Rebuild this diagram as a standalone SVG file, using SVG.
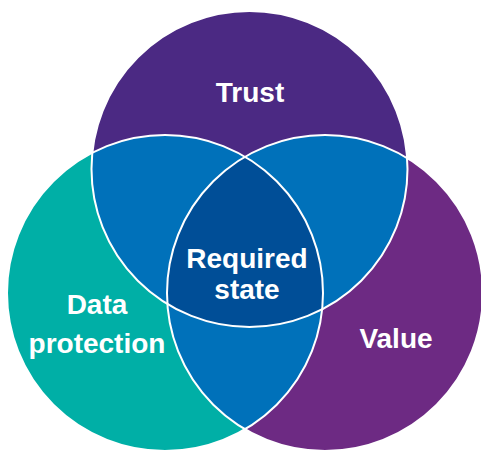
<svg xmlns="http://www.w3.org/2000/svg" width="481" height="450" viewBox="0 0 481 450">
<style>
.lbl{font-family:"Liberation Sans",Arial,sans-serif;font-weight:bold;font-size:28px;fill:#fff;text-anchor:middle}
.edge{fill:none;stroke:#fff;stroke-width:2}
</style>
<defs>
<circle id="cT" cx="249.5" cy="169" r="158"/>
<circle id="cL" cx="165" cy="293" r="158"/>
<circle id="cR" cx="325" cy="293" r="158"/>
<clipPath id="clipT"><use href="#cT"/></clipPath>
<clipPath id="clipL"><use href="#cL"/></clipPath>
<clipPath id="clipR"><use href="#cR"/></clipPath>
</defs>
<rect width="481" height="450" fill="#fff"/>
<g id="trust"><use href="#cT" fill="#4B2983"/></g>
<g id="data-protection"><use href="#cL" fill="#00AFA6"/></g>
<g id="value"><use href="#cR" fill="#6D2A83"/></g>
<g id="overlaps">
<g clip-path="url(#clipT)"><use href="#cL" fill="#0071BA"/><use href="#cR" fill="#0071BA"/></g>
<g clip-path="url(#clipL)"><use href="#cR" fill="#0071BA"/></g>
<g id="required-state" clip-path="url(#clipT)"><g clip-path="url(#clipL)"><use href="#cR" fill="#004E97"/></g></g>
</g>
<g id="connectors">
<use href="#cT" class="edge"/>
<use href="#cL" class="edge"/>
<use href="#cR" class="edge"/>
</g>
<g id="labels">
<text class="lbl" x="250" y="102">Trust</text>
<text class="lbl" x="247" y="268">Required</text>
<text class="lbl" x="247" y="299">state</text>
<text class="lbl" x="97" y="314">Data</text>
<text class="lbl" x="97" y="353">protection</text>
<text class="lbl" x="396" y="348">Value</text>
</g>
</svg>
